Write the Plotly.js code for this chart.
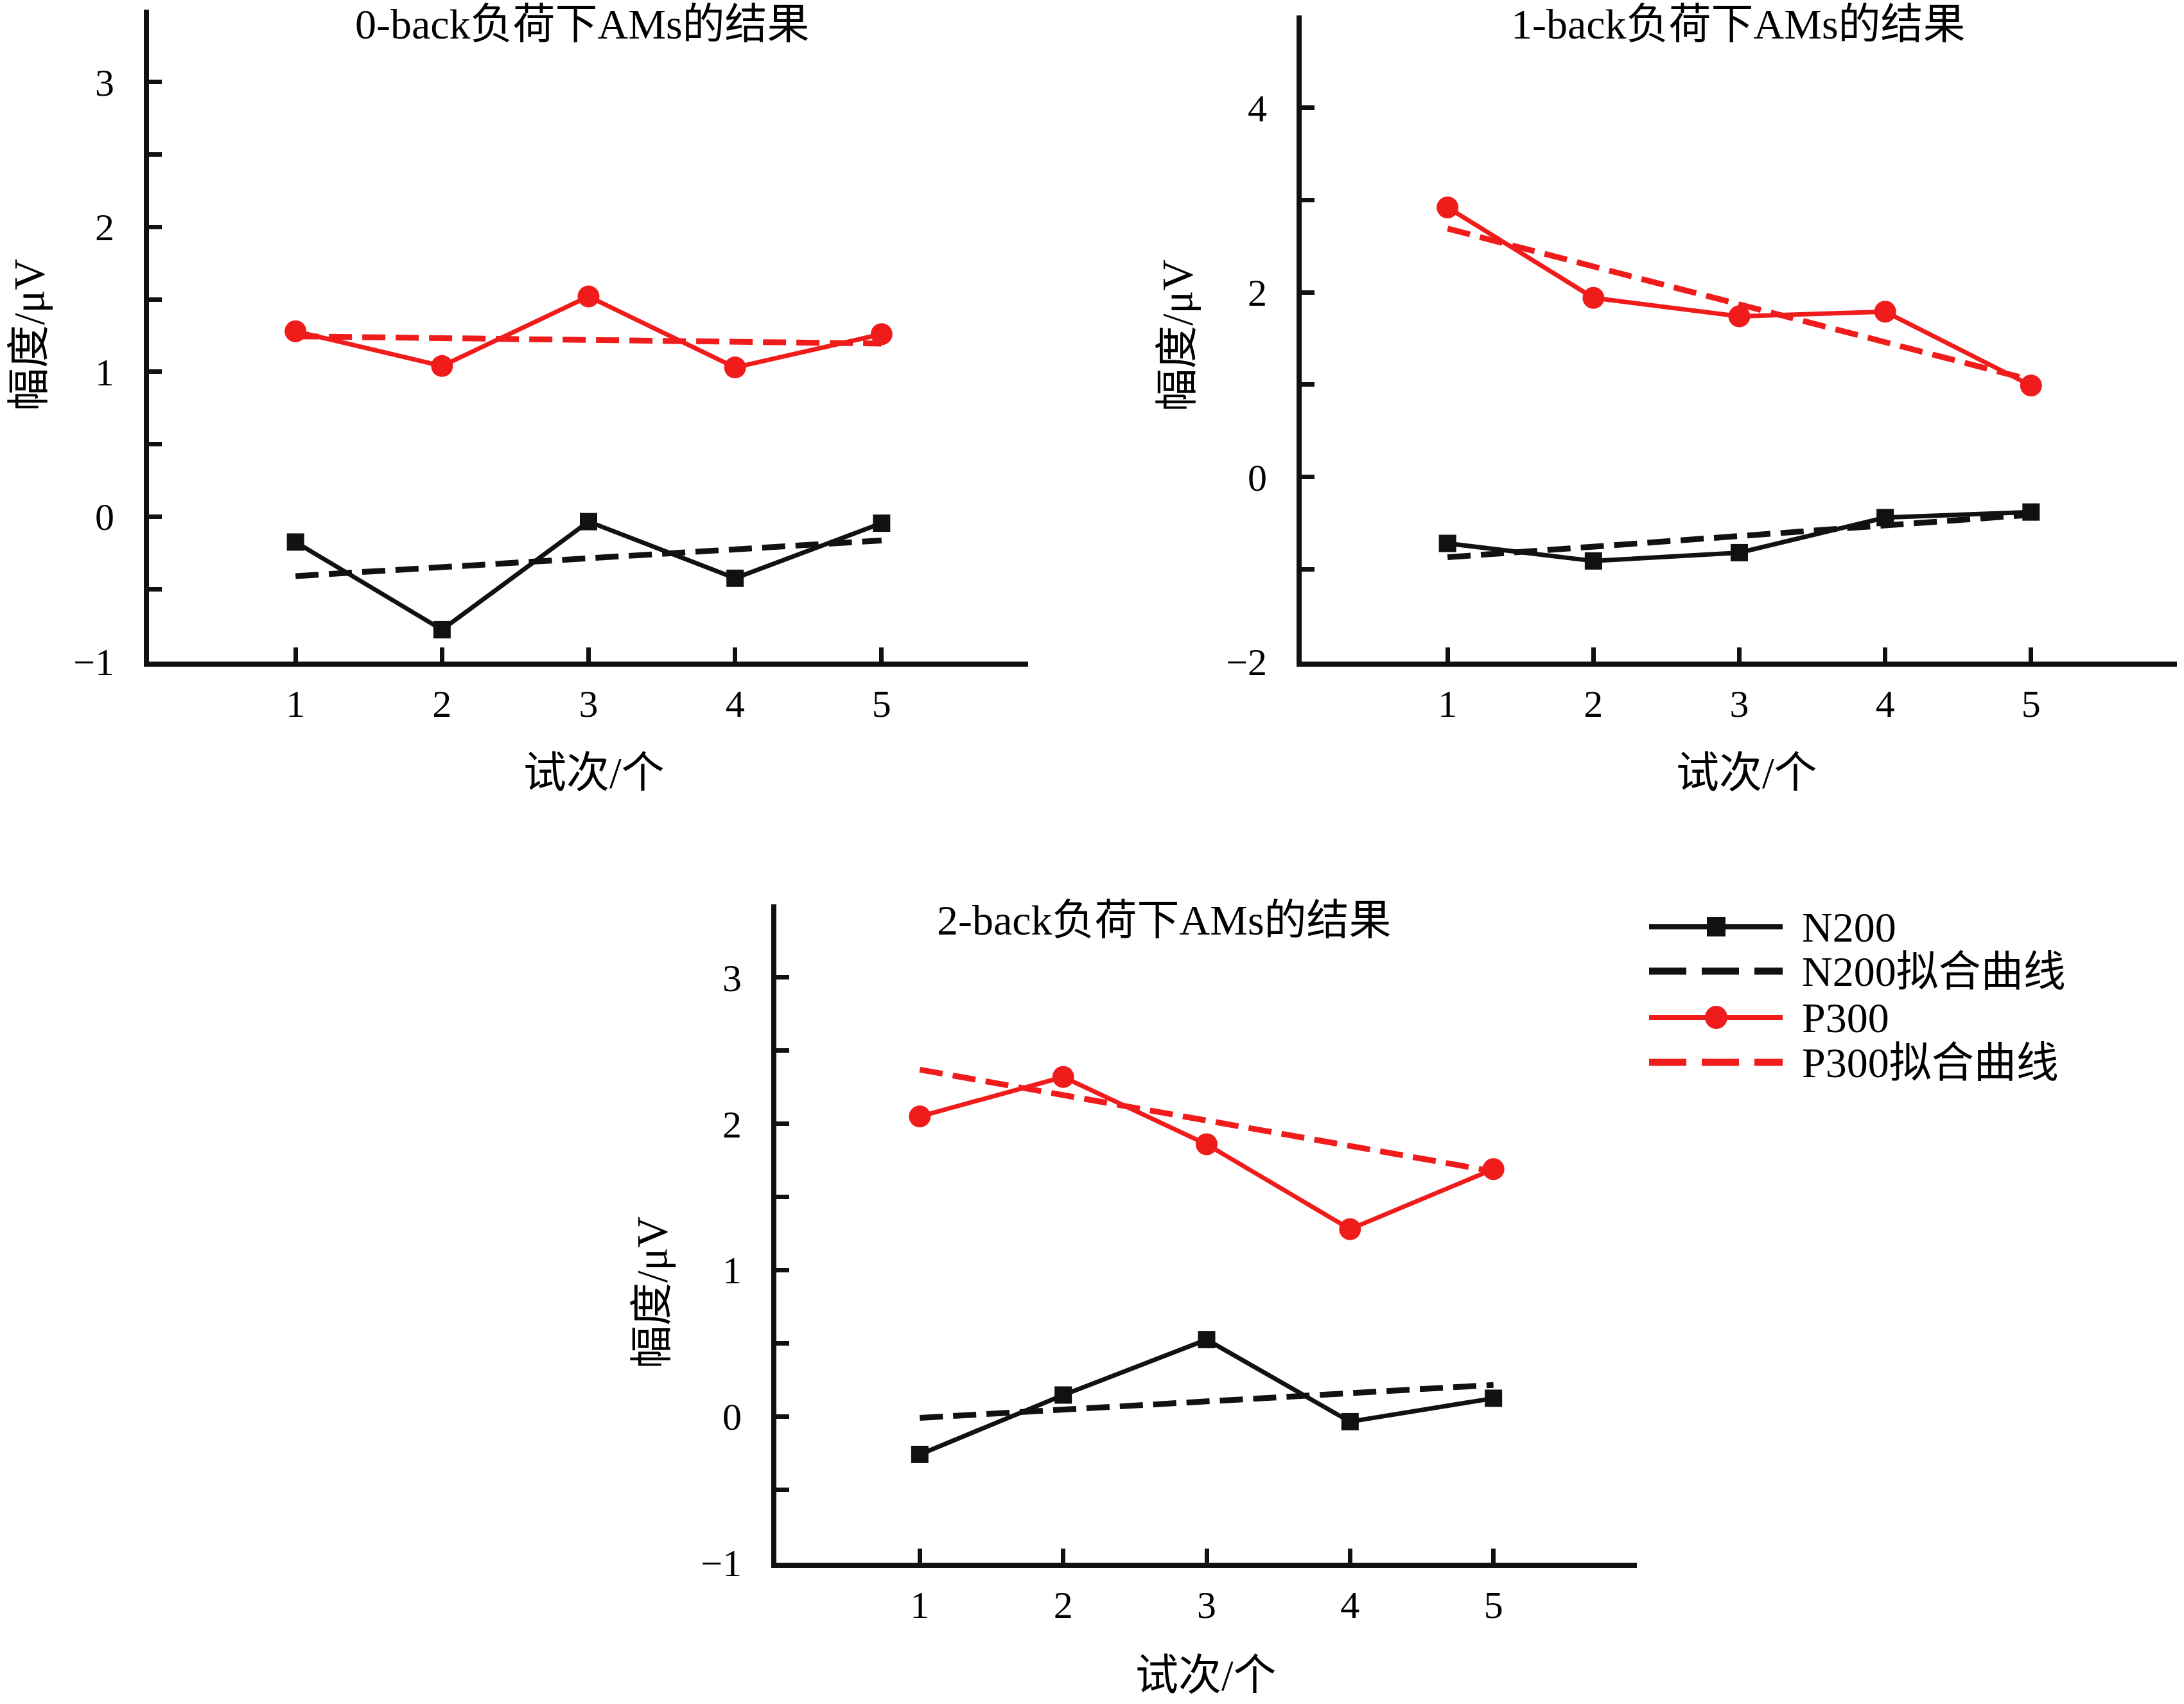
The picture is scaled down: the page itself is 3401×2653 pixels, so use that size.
<!DOCTYPE html>
<html>
<head>
<meta charset="utf-8">
<script src="https://cdn.plot.ly/plotly-3.0.1.min.js"></script>
<style>html,body{margin:0;padding:0;background:#fff;}#chart{width:3401px;height:2653px;}</style>
</head>
<body>
<div id="chart"></div>
<script>
// ---- data ----
var trials = [1, 2, 3, 4, 5];
var fitX = [1, 5];

var n200_0back = [-0.175, -0.78, -0.034, -0.425, -0.045];
var p300_0back = [1.28, 1.04, 1.52, 1.03, 1.26];
var n200Fit_0back = [-0.41, -0.164];
var p300Fit_0back = [1.245, 1.195];

var n200_1back = [-0.72, -0.91, -0.82, -0.44, -0.38];
var p300_1back = [2.92, 1.94, 1.74, 1.79, 0.99];
var n200Fit_1back = [-0.87, -0.41];
var p300Fit_1back = [2.69, 1.05];

var n200_2back = [-0.26, 0.146, 0.525, -0.036, 0.124];
var p300_2back = [2.05, 2.32, 1.86, 1.28, 1.69];
var n200Fit_2back = [-0.01, 0.215];
var p300Fit_2back = [2.37, 1.675];

var panelTitles = ["0-back负荷下AMs的结果", "1-back负荷下AMs的结果", "2-back负荷下AMs的结果"];
var xTitle = "试次/个";
var yTitle = "幅度/μV";
var legendNames = ["N200", "N200拟合曲线", "P300", "P300拟合曲线"];

var xTickVals = [1, 2, 3, 4, 5, 6];
var xTickText = ["1", "2", "3", "4", "5", ""];
var yTickVals_a = [-1, -0.5, 0, 0.5, 1, 1.5, 2, 2.5, 3, 3.5];
var yTickText_a = ["\u22121", "", "0", "", "1", "", "2", "", "3", ""];
var yTickVals_b = [-2, -1, 0, 1, 2, 3, 4, 5];
var yTickText_b = ["\u22122", "", "0", "", "2", "", "4", ""];

// ---- styling ----
var W = 3401, H = 2653;
var FONT = "'Liberation Serif', 'Times New Roman', 'Noto Sans CJK SC', serif";
var RED = "#f01c1c";
var BLACK = "#111111";

function px(x) { return x / W; }
function py(y) { return 1 - y / H; }

var traces = [];
function addPanel(n200, p300, n200Fit, p300Fit, xa, ya) {
  traces.push({x: fitX, y: n200Fit, xaxis: xa, yaxis: ya, mode: "lines", type: "scatter",
    line: {color: BLACK, width: 9, dash: "36px,16px"}, showlegend: false, name: legendNames[1]});
  traces.push({x: fitX, y: p300Fit, xaxis: xa, yaxis: ya, mode: "lines", type: "scatter",
    line: {color: RED, width: 9, dash: "36px,16px"}, showlegend: false, name: legendNames[3]});
  traces.push({x: trials, y: n200, xaxis: xa, yaxis: ya, mode: "lines+markers", type: "scatter",
    line: {color: BLACK, width: 7}, marker: {symbol: "square", size: 27, color: BLACK},
    showlegend: false, name: legendNames[0]});
  traces.push({x: trials, y: p300, xaxis: xa, yaxis: ya, mode: "lines+markers", type: "scatter",
    line: {color: RED, width: 7}, marker: {symbol: "circle", size: 34, color: RED},
    showlegend: false, name: legendNames[2]});
}
addPanel(n200_0back, p300_0back, n200Fit_0back, p300Fit_0back, "x", "y");
addPanel(n200_1back, p300_1back, n200Fit_1back, p300Fit_1back, "x2", "y2");
addPanel(n200_2back, p300_2back, n200Fit_2back, p300Fit_2back, "x3", "y3");

function xAxis(domain, anchor) {
  return {domain: domain, anchor: anchor, range: [0, 6], showgrid: false, zeroline: false,
    showline: true, linewidth: 8, linecolor: BLACK, ticks: "inside", ticklen: 22, tickwidth: 7,
    tickcolor: BLACK, tickmode: "array", tickvals: xTickVals, ticktext: xTickText,
    ticklabelstandoff: 6, tickfont: {family: FONT, size: 60, color: "#000"}, fixedrange: true};
}
function yAxis(domain, anchor, range, tv, tt) {
  return {domain: domain, anchor: anchor, range: range, showgrid: false, zeroline: false,
    showline: true, linewidth: 8, linecolor: BLACK, ticks: "inside", ticklen: 20, tickwidth: 7,
    tickcolor: BLACK, tickmode: "array", tickvals: tv, ticktext: tt,
    ticklabelstandoff: 34, tickfont: {family: FONT, size: 60, color: "#000"}, fixedrange: true};
}

var annotations = [];
function ann(text, x, y, opts) {
  var a = {text: text, xref: "paper", yref: "paper", x: px(x), y: py(y), showarrow: false,
    xanchor: "center", yanchor: "middle", font: {family: FONT, size: 67, color: "#000"}};
  for (var k in opts) a[k] = opts[k];
  annotations.push(a);
}
// panel titles
ann(panelTitles[0], 907, 38, {font: {family: FONT, size: 66, color: "#000"}});
ann(panelTitles[1], 2707, 38, {font: {family: FONT, size: 66, color: "#000"}});
ann(panelTitles[2], 1813, 1432, {font: {family: FONT, size: 66, color: "#000"}});
// x titles
ann(xTitle, 925, 1203);
ann(xTitle, 2720, 1203);
ann(xTitle, 1878, 2608);
// y titles
ann(yTitle, 45, 522, {textangle: -90});
ann(yTitle, 1833, 522, {textangle: -90});
ann(yTitle, 1015, 2013, {textangle: -90});
// legend text
var legRows = [1443, 1512, 1584, 1654];
for (var i = 0; i < 4; i++) {
  ann(legendNames[i], 2804, legRows[i], {xanchor: "left", font: {family: FONT, size: 66, color: "#000"}});
}

// legend samples
var shapes = [];
var legColors = [BLACK, BLACK, RED, RED];
var legDash = ["solid", "58px,24px", "solid", "58px,24px"];
var legWidth = [8, 11, 8, 11];
for (var j = 0; j < 4; j++) {
  shapes.push({type: "line", xref: "paper", yref: "paper", x0: px(2568), x1: px(2776),
    y0: py(legRows[j]), y1: py(legRows[j]), line: {color: legColors[j], width: legWidth[j], dash: legDash[j]}});
}
// legend markers
shapes.push({type: "rect", xref: "paper", yref: "paper", x0: px(2658), x1: px(2687),
  y0: py(legRows[0] + 15), y1: py(legRows[0] - 15), fillcolor: BLACK, line: {width: 0}});
shapes.push({type: "circle", xref: "paper", yref: "paper", x0: px(2655), x1: px(2690),
  y0: py(legRows[2] + 18), y1: py(legRows[2] - 18), fillcolor: RED, line: {width: 0}});

var layout = {
  width: W, height: H, margin: {l: 0, r: 0, t: 0, b: 0},
  paper_bgcolor: "#fff", plot_bgcolor: "rgba(0,0,0,0)", showlegend: false,
  font: {family: FONT, size: 60, color: "#000"},
  xaxis: xAxis([232 / W, 1601 / W], "y"),
  yaxis: yAxis([1 - 1030 / H, 1 - 15 / H], "x", [-1, 3.5], yTickVals_a, yTickText_a),
  xaxis2: xAxis([2027 / W, 3390 / W], "y2"),
  yaxis2: yAxis([1 - 1030 / H, 1 - 24 / H], "x2", [-2, 5], yTickVals_b, yTickText_b),
  xaxis3: xAxis([1209 / W, 2549 / W], "y3"),
  yaxis3: yAxis([1 - 2433 / H, 1 - 1408 / H], "x3", [-1, 3.5], yTickVals_a, yTickText_a),
  annotations: annotations,
  shapes: shapes
};

Plotly.newPlot("chart", traces, layout, {displayModeBar: false, staticPlot: true});
</script>
</body>
</html>
